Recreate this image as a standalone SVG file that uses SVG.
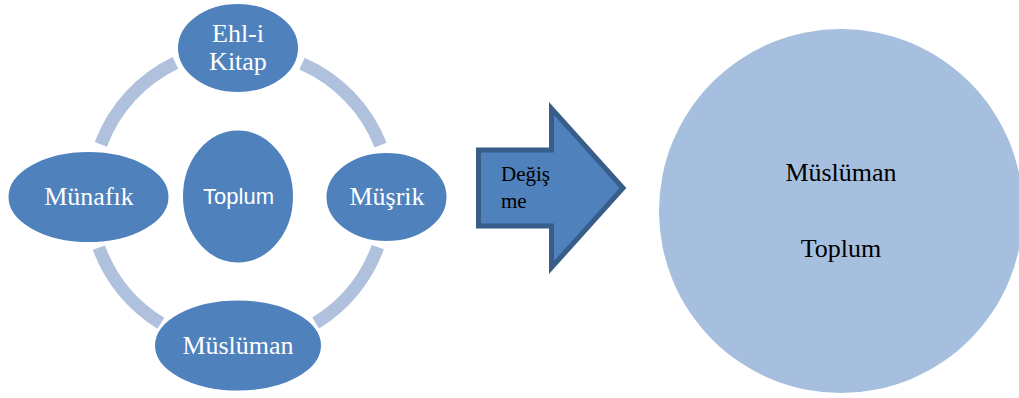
<svg xmlns="http://www.w3.org/2000/svg" width="1019" height="398" viewBox="0 0 1019 398">
<style>
.ring{fill:none;stroke:#b0c1dd;stroke-width:13;stroke-linecap:butt}
.node{fill:#4f81bd;stroke:#ffffff;stroke-width:2}
.wt{font-family:"Liberation Serif","Times New Roman",serif;font-size:26px;fill:#ffffff;text-anchor:middle}
.bt{font-family:"Liberation Serif","Times New Roman",serif;font-size:26px;fill:#000000;text-anchor:middle}
.st{font-family:"Liberation Sans",Arial,sans-serif;font-size:22px;fill:#ffffff;text-anchor:middle}
.at{font-family:"Liberation Serif","Times New Roman",serif;font-size:21px;fill:#000000}
</style>
<rect width="1019" height="398" fill="#ffffff"/>
<g id="connectors">
<path class="ring" d="M100.8,144.4 A148,148 0 0 1 175.4,62.9"/>
<path class="ring" d="M302,63.6 A148,148 0 0 1 380.6,145.2"/>
<path class="ring" d="M377.8,247.1 A148,148 0 0 1 315.6,323"/>
<path class="ring" d="M160.9,323.3 A148,148 0 0 1 98.9,247.6"/>
</g>
<g id="ehl-i-kitap">
<ellipse class="node" cx="238" cy="48" rx="61" ry="45"/>
<text class="wt" x="238" y="42">Ehl-i</text>
<text class="wt" x="238" y="70">Kitap</text>
</g>
<g id="munafik">
<ellipse class="node" cx="88.5" cy="197" rx="81" ry="46"/>
<text class="wt" x="89" y="205">Münafık</text>
</g>
<g id="musrik">
<ellipse class="node" cx="386.5" cy="197" rx="61" ry="45"/>
<text class="wt" x="387" y="205">Müşrik</text>
</g>
<g id="musluman">
<ellipse class="node" cx="238" cy="345.5" rx="84" ry="46"/>
<text class="wt" x="238" y="354">Müslüman</text>
</g>
<g id="toplum">
<ellipse class="node" cx="238" cy="196.5" rx="56" ry="67"/>
<text class="st" x="238.5" y="204">Toplum</text>
</g>
<g id="degisme">
<path d="M478.5,150 L551.5,150 L551.5,108.5 L623,188 L551.5,267.5 L551.5,226 L478.5,226 Z" fill="#4f81bd" stroke="#385d8a" stroke-width="5" stroke-linejoin="miter"/>
<text class="at" x="501" y="181">Değiş</text>
<text class="at" x="501" y="208">me</text>
</g>
<g id="musluman-toplum">
<circle cx="841" cy="211" r="182" fill="#a7bfde"/>
<text class="bt" x="841" y="181">Müslüman</text>
<text class="bt" x="841" y="257">Toplum</text>
</g>
</svg>
